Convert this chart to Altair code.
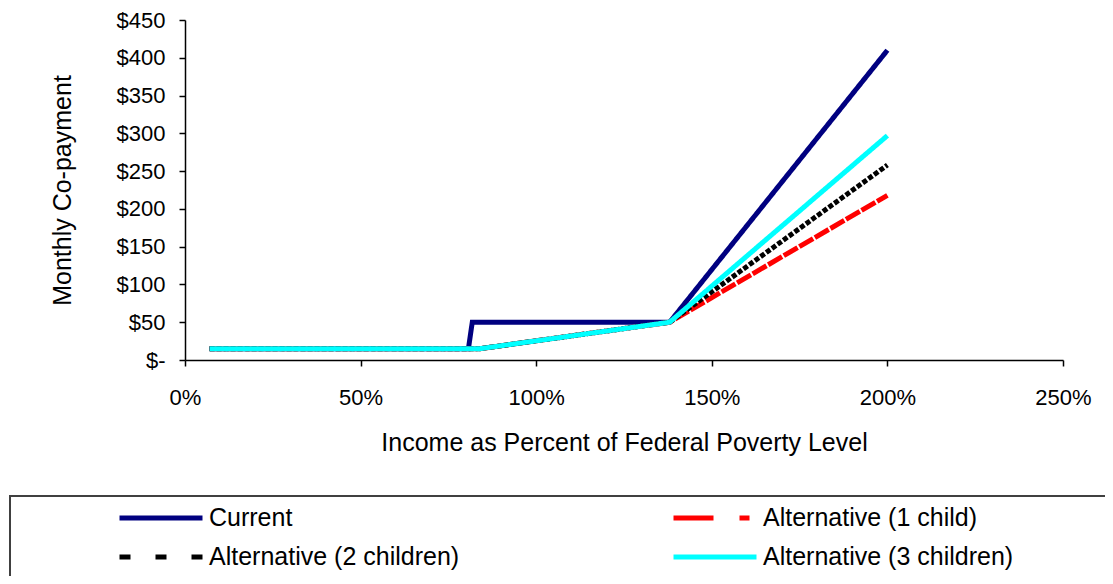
import altair as alt
import pandas as pd

# ---- data ----
# legend order (column-major fill gives: row1 Current / Alt 1, row2 Alt 2 / Alt 3)
series_names = ["Current", "Alternative (2 children)", "Alternative (1 child)", "Alternative (3 children)"]
series_colors = ["#000080", "#000000", "#FF0000", "#00FFFF"]

current_pct = [7, 80.7, 81.8, 138, 200]
current_val = [15, 15, 50, 50, 410]
alt1_pct = [7, 84, 138, 200]
alt1_val = [15, 15, 50, 218]
alt2_pct = [7, 84, 138, 200]
alt2_val = [15, 15, 50, 258]
alt3_pct = [7, 84, 138, 200]
alt3_val = [15, 15, 50, 297]

x_ticks = [0, 50, 100, 150, 200, 250]
y_ticks = [0, 50, 100, 150, 200, 250, 300, 350, 400, 450]

rows = []
for name, xs, ys in zip(["Current", "Alternative (1 child)", "Alternative (2 children)", "Alternative (3 children)"],
                        [current_pct, alt1_pct, alt2_pct, alt3_pct],
                        [current_val, alt1_val, alt2_val, alt3_val]):
    for i, (xv, yv) in enumerate(zip(xs, ys)):
        rows.append({"series": name, "pct": xv, "val": yv, "idx": i})
df = pd.DataFrame(rows)

FONT = "Liberation Sans"

plot_dash = [[1, 0], [5, 2], [16, 2], [1, 0]]
legend_dash = [[1, 0], [11, 25], [40, 26, 10, 26], [1, 0]]

x_enc = alt.X("pct:Q", scale=alt.Scale(domain=[0, 250], nice=False),
              axis=alt.Axis(values=x_ticks, labelExpr="datum.value + '%'",
                            title="Income as Percent of Federal Poverty Level",
                            titlePadding=22, labelPadding=21, labelOverlap=False,
                            labelFlush=False))
y_enc = alt.Y("val:Q", scale=alt.Scale(domain=[0, 450], nice=False),
              axis=alt.Axis(values=y_ticks,
                            labelExpr="datum.value == 0 ? '$-' : '$' + datum.value",
                            title="Monthly Co-payment", titlePadding=41, labelPadding=14,
                            labelOverlap=False, labelFlush=False))

lines = alt.Chart(df).mark_line(strokeWidth=5).encode(
    x=x_enc,
    y=y_enc,
    color=alt.Color("series:N", scale=alt.Scale(domain=series_names, range=series_colors), legend=None),
    strokeDash=alt.StrokeDash("series:N", scale=alt.Scale(domain=series_names, range=plot_dash), legend=None),
    order=alt.Order("idx:Q"),
)

leg = alt.Legend(title=None, orient="none", legendX=-68, legendY=485, columns=2,
                 columnPadding=211, rowPadding=13, clipHeight=26,
                 symbolType="stroke", symbolSize=6889, symbolStrokeWidth=5,
                 labelFont=FONT, labelFontSize=25, labelColor="black", labelLimit=600,
                 labelOffset=4, symbolOffset=0, padding=0)

legend_layer = alt.Chart(df).transform_filter("datum.pct < 0").mark_line(strokeWidth=5).encode(
    x=x_enc,
    y=y_enc,
    color=alt.Color("series:N", scale=alt.Scale(domain=series_names, range=series_colors), legend=leg),
    strokeDash=alt.StrokeDash("series:N", scale=alt.Scale(domain=series_names, range=legend_dash), legend=leg),
)

box = alt.Chart(alt.Data(values=[{"k": 1}])).mark_rect(fillOpacity=0, stroke="#404040", strokeWidth=2).encode(
    x=alt.value(-175), x2=alt.value(935), y=alt.value(476), y2=alt.value(600)
)

chart = alt.layer(lines, legend_layer, box).resolve_scale(
    color="independent", strokeDash="independent"
).properties(
    width=878, height=340,
    autosize=alt.AutoSizeParams(type="none"),
    padding={"left": 177, "top": 12, "right": 42, "bottom": 216},
).configure_view(stroke=None).configure_axis(
    grid=False, domainColor="black", tickColor="black", domainWidth=1.5, tickWidth=1.5,
    tickSize=6, labelFont=FONT, labelFontSize=22, labelColor="black",
    titleFont=FONT, titleFontSize=25, titleFontWeight="normal", titleColor="black",
)

chart.save("out.html", embed_options={"renderer": "svg", "actions": False})
